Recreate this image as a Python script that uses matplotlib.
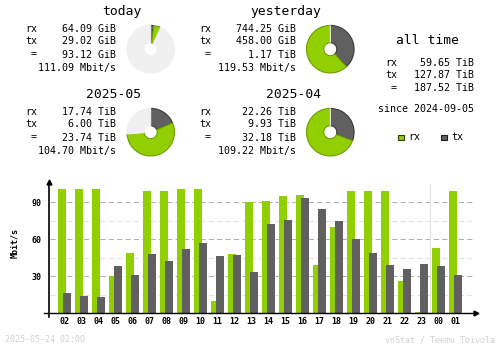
import numpy as np
import matplotlib
matplotlib.use("Agg")
import matplotlib.pyplot as plt
from matplotlib.patches import Rectangle

# vnStat colours
RX = "#92CF00"
TX = "#606060"
RX_EDGE = "#6F9E00"
TX_EDGE = "#3A3A3A"
PIE_BG = "#F0F0F0"
GRID = "#B0B0B0"
GRID_L = "#E2E2E2"
FOOT = "#D0D0D0"
MONO = "DejaVu Sans Mono"

# summary numbers
row_labels = ["rx", "tx", "="]
today_vals = ["64.09 GiB", "29.02 GiB", "93.12 GiB", "111.09 Mbit/s"]
yesterday_vals = ["744.25 GiB", "458.00 GiB", "1.17 TiB", "119.53 Mbit/s"]
month_vals = ["17.74 TiB", "6.00 TiB", "23.74 TiB", "104.70 Mbit/s"]
prev_month_vals = ["22.26 TiB", "9.93 TiB", "32.18 TiB", "109.22 Mbit/s"]
alltime_vals = ["59.65 TiB", "127.87 TiB", "187.52 TiB"]
since = "since 2024-09-05"

# pie parts: [tx, rx] and the full scale of the circle
today_pie, today_scale = [29.02, 64.09], 1368.0
yesterday_pie, yesterday_scale = [458.00, 744.25], 1202.25
month_pie, month_scale = [6.00, 17.74], 32.18
prev_month_pie, prev_month_scale = [9.93, 22.26], 32.18

# hourly average rates, Mbit/s
hours = ["02", "03", "04", "05", "06", "07", "08", "09", "10", "11", "12", "13",
         "14", "15", "16", "17", "18", "19", "20", "21", "22", "23", "00", "01"]
rx_rate = [101, 101, 101, 30, 49, 99, 99, 101, 101, 10, 48, 90,
           91, 95, 96, 39, 70, 99, 99, 99, 26, 1, 53, 99]
tx_rate = [16.5, 14, 13.2, 38.4, 31, 48, 42.4, 52, 57, 46.5, 47.3, 33.5,
           72.4, 75.7, 93.5, 84.6, 74.9, 60, 48.9, 39.2, 35.9, 40, 38.4, 31]

W, H = 500, 348
fig = plt.figure(figsize=(W / 100, H / 100), dpi=100)
fig.patch.set_facecolor("white")


def fx(x):
    return x / W


def fy(y):
    return 1 - y / H


def txt(x, y, s, size=7.2, ha="left", color="black", **kw):
    fig.text(fx(x), fy(y), s, ha=ha, va="center", fontsize=size,
             family=MONO, color=color, **kw)


def stats(x_lab, x_val, ys, vals):
    for i, v in enumerate(vals):
        if i < 2:
            txt(x_lab, ys[i], row_labels[i])
        elif i == 2:
            txt(x_lab + 9, ys[i], row_labels[i], ha="center")
        txt(x_val, ys[i], v, ha="right")


R, R_IN = 24.5, 6.7


def pie(cx, cy, parts, scale):
    ax = fig.add_axes([fx(cx - R), fy(cy + R), 2 * R / W, 2 * R / H])
    rest = max(scale - sum(parts), 0)
    vals = parts + [rest]
    wedges, _ = ax.pie(vals, colors=[TX, RX, PIE_BG], startangle=90,
                       counterclock=False, radius=1,
                       wedgeprops=dict(width=1 - R_IN / R, linewidth=0.8))
    for w, e in zip(wedges, [TX_EDGE, RX_EDGE, PIE_BG]):
        w.set_edgecolor(e)
    ax.set_xlim(-1.03, 1.03)
    ax.set_ylim(-1.03, 1.03)
    ax.axis("off")


# titles
txt(122, 12, "today", size=9.4, ha="center")
txt(286, 12, "yesterday", size=9.4, ha="center")
txt(114, 94, "2025-05", size=9.4, ha="center")
txt(294, 94, "2025-04", size=9.4, ha="center")
txt(428, 40, "all time", size=9.4, ha="center")

top_rows = [29, 41, 54.5, 68.5]
mid_rows = [112, 124, 137.5, 151.5]
stats(25, 115.5, top_rows, today_vals)
stats(199, 295.5, top_rows, yesterday_vals)
stats(25, 115.5, mid_rows, month_vals)
stats(199, 295.5, mid_rows, prev_month_vals)
stats(385, 474, [63, 74.5, 88], alltime_vals)
txt(474, 108.5, since, ha="right")

pie(150.7, 49.2, today_pie, today_scale)
pie(330.3, 49.2, yesterday_pie, yesterday_scale)
pie(150.7, 132.2, month_pie, month_scale)
pie(330.3, 132.2, prev_month_pie, prev_month_scale)

# legend
for x0, c, e, lab in [(398, RX, "#2A3A00", "rx"), (441, TX, "#202020", "tx")]:
    fig.patches.append(Rectangle((fx(x0), fy(140)), 5.5 / W, 5.5 / H,
                                 facecolor=c, edgecolor=e, linewidth=0.8,
                                 transform=fig.transFigure, figure=fig))
    txt(x0 + 10, 137, lab)

# hourly bar chart
ax = fig.add_axes([48.7 / W, (H - 313.3) / H, 427.3 / W, 131.3 / H])
x = np.arange(len(hours))
ax.bar(x - 0.147, rx_rate, width=0.47, color=RX, zorder=3, linewidth=0)
ax.bar(x + 0.147, tx_rate, width=0.47, color=TX, zorder=4, linewidth=0)
ax.set_xlim(-0.93, 24.21)
ax.set_ylim(0, 106.5)

for v in [15, 45, 75]:
    ax.axhline(v, xmin=0.004, xmax=0.993, color=GRID_L, lw=0.75,
               dashes=(5, 3), zorder=1)
for v in [30, 60, 90]:
    ax.axhline(v, xmin=0.004, xmax=0.993, color=GRID, lw=0.75,
               dashes=(5, 3), zorder=1)
ax.axvline(hours.index("00") - 0.5, ymax=0.985, color=GRID_L, lw=0.8, zorder=2)

for s in ax.spines.values():
    s.set_visible(False)
ax.plot([-0.011, 1.0], [0, 0], transform=ax.transAxes, color="black",
        lw=1.0, clip_on=False, zorder=5)
ax.plot([0, 0], [-0.026, 1.0], transform=ax.transAxes, color="black",
        lw=1.2, clip_on=False, zorder=5)
ax.plot([1.0], [0], transform=ax.transAxes, marker=">", ms=3.5, color="black",
        clip_on=False, zorder=6)
ax.plot([0], [1.0], transform=ax.transAxes, marker="^", ms=3.5, color="black",
        clip_on=False, zorder=6)

ax.set_xticks(x, hours)
ax.set_yticks([30, 60, 90])
ax.tick_params(length=0, labelsize=6)
ax.tick_params(axis="x", pad=2.5)
ax.tick_params(axis="y", pad=5)
for lab in ax.get_xticklabels() + ax.get_yticklabels():
    lab.set_family(MONO)
    lab.set_fontweight("bold")
ax.set_facecolor("none")

fig.text(fx(14.7), fy(243), "Mbit/s", rotation=90, ha="center", va="center",
         fontsize=6, family=MONO, fontweight="bold")

# footer
txt(5, 340, "2025-05-24 02:00", size=6, color=FOOT)
txt(495, 340, "vnStat / Teemu Toivola", size=6, color=FOOT, ha="right")

fig.savefig("out.png", dpi=100)
